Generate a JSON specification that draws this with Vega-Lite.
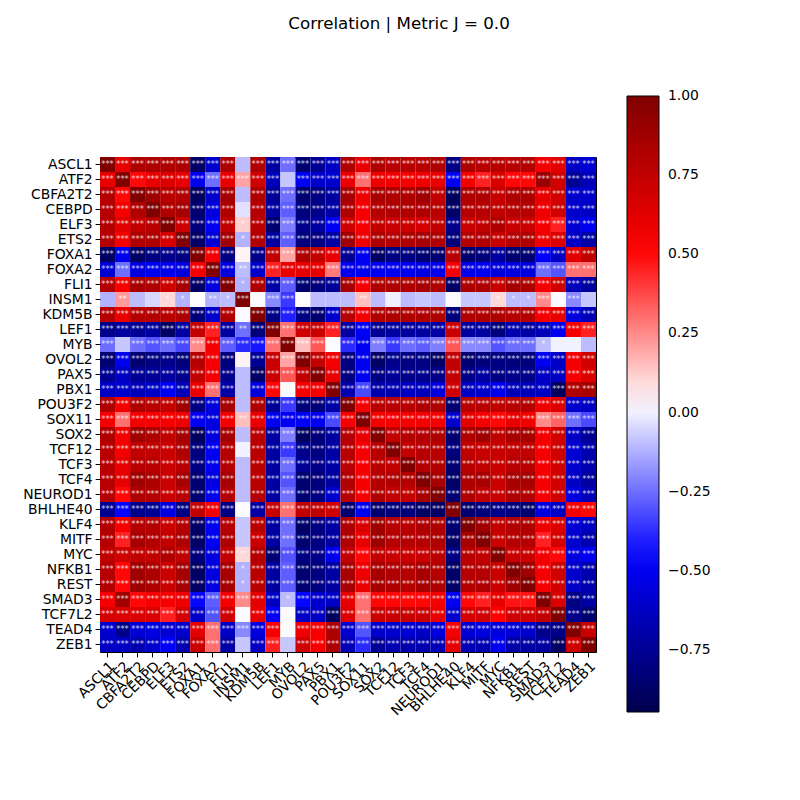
{"$schema":"https://vega.github.io/schema/vega-lite/v6.json","autosize":"none","padding":{"left":100,"top":157,"right":204,"bottom":148},"width":496,"height":495,"background":"white","title":{"text":"Correlation | Metric J = 0.0","font":"DejaVu Sans","fontSize":16.7,"fontWeight":"normal","color":"black","anchor":"middle","frame":"group","dx":51,"offset":50,"baseline":"alphabetic"},"config":{"view":{"stroke":"black","strokeWidth":1}},
"data":{"values":[
{"r":"ASCL1","c":"ASCL1","v":1.0,"s":"***"},{"r":"ASCL1","c":"ATF2","v":0.6,"s":"***"},{"r":"ASCL1","c":"CBFA2T2","v":0.82,"s":"***"},{"r":"ASCL1","c":"CEBPD","v":0.82,"s":"***"},{"r":"ASCL1","c":"ELF3","v":0.82,"s":"***"},{"r":"ASCL1","c":"ETS2","v":0.82,"s":"***"},{"r":"ASCL1","c":"FOXA1","v":-0.88,"s":"***"},{"r":"ASCL1","c":"FOXA2","v":-0.6,"s":"***"},{"r":"ASCL1","c":"FLI1","v":0.82,"s":"***"},{"r":"ASCL1","c":"INSM1","v":-0.1,"s":""},{"r":"ASCL1","c":"KDM5B","v":0.82,"s":"***"},{"r":"ASCL1","c":"LEF1","v":-0.72,"s":"***"},{"r":"ASCL1","c":"MYB","v":-0.25,"s":"***"},{"r":"ASCL1","c":"OVOL2","v":-0.85,"s":"***"},{"r":"ASCL1","c":"PAX5","v":-0.75,"s":"***"},{"r":"ASCL1","c":"PBX1","v":-0.62,"s":"***"},{"r":"ASCL1","c":"POU3F2","v":0.82,"s":"***"},{"r":"ASCL1","c":"SOX11","v":0.6,"s":"***"},{"r":"ASCL1","c":"SOX2","v":0.82,"s":"***"},{"r":"ASCL1","c":"TCF12","v":0.78,"s":"***"},{"r":"ASCL1","c":"TCF3","v":0.78,"s":"***"},{"r":"ASCL1","c":"TCF4","v":0.78,"s":"***"},{"r":"ASCL1","c":"NEUROD1","v":0.82,"s":"***"},{"r":"ASCL1","c":"BHLHE40","v":-0.8,"s":"***"},{"r":"ASCL1","c":"KLF4","v":0.82,"s":"***"},{"r":"ASCL1","c":"MITF","v":0.78,"s":"***"},{"r":"ASCL1","c":"MYC","v":0.78,"s":"***"},{"r":"ASCL1","c":"NFKB1","v":0.78,"s":"***"},{"r":"ASCL1","c":"REST","v":0.8,"s":"***"},{"r":"ASCL1","c":"SMAD3","v":0.55,"s":"***"},{"r":"ASCL1","c":"TCF7L2","v":0.62,"s":"***"},{"r":"ASCL1","c":"TEAD4","v":-0.62,"s":"***"},{"r":"ASCL1","c":"ZEB1","v":-0.58,"s":"***"},
{"r":"ATF2","c":"ASCL1","v":0.6,"s":"***"},{"r":"ATF2","c":"ATF2","v":1.0,"s":"***"},{"r":"ATF2","c":"CBFA2T2","v":0.5,"s":"***"},{"r":"ATF2","c":"CEBPD","v":0.6,"s":"***"},{"r":"ATF2","c":"ELF3","v":0.65,"s":"***"},{"r":"ATF2","c":"ETS2","v":0.6,"s":"***"},{"r":"ATF2","c":"FOXA1","v":-0.5,"s":"***"},{"r":"ATF2","c":"FOXA2","v":-0.25,"s":"***"},{"r":"ATF2","c":"FLI1","v":0.6,"s":"***"},{"r":"ATF2","c":"INSM1","v":0.2,"s":"***"},{"r":"ATF2","c":"KDM5B","v":0.7,"s":"***"},{"r":"ATF2","c":"LEF1","v":-0.65,"s":"***"},{"r":"ATF2","c":"MYB","v":-0.08,"s":""},{"r":"ATF2","c":"OVOL2","v":-0.5,"s":"***"},{"r":"ATF2","c":"PAX5","v":-0.6,"s":"***"},{"r":"ATF2","c":"PBX1","v":-0.6,"s":"***"},{"r":"ATF2","c":"POU3F2","v":0.6,"s":"***"},{"r":"ATF2","c":"SOX11","v":0.3,"s":"***"},{"r":"ATF2","c":"SOX2","v":0.58,"s":"***"},{"r":"ATF2","c":"TCF12","v":0.58,"s":"***"},{"r":"ATF2","c":"TCF3","v":0.55,"s":"***"},{"r":"ATF2","c":"TCF4","v":0.58,"s":"***"},{"r":"ATF2","c":"NEUROD1","v":0.6,"s":"***"},{"r":"ATF2","c":"BHLHE40","v":-0.5,"s":"***"},{"r":"ATF2","c":"KLF4","v":0.55,"s":"***"},{"r":"ATF2","c":"MITF","v":0.45,"s":"***"},{"r":"ATF2","c":"MYC","v":0.65,"s":"***"},{"r":"ATF2","c":"NFKB1","v":0.5,"s":"***"},{"r":"ATF2","c":"REST","v":0.5,"s":"***"},{"r":"ATF2","c":"SMAD3","v":0.9,"s":"***"},{"r":"ATF2","c":"TCF7L2","v":0.7,"s":"***"},{"r":"ATF2","c":"TEAD4","v":-0.75,"s":"***"},{"r":"ATF2","c":"ZEB1","v":-0.65,"s":"***"},
{"r":"CBFA2T2","c":"ASCL1","v":0.8,"s":"***"},{"r":"CBFA2T2","c":"ATF2","v":0.5,"s":"***"},{"r":"CBFA2T2","c":"CBFA2T2","v":1.0,"s":"***"},{"r":"CBFA2T2","c":"CEBPD","v":0.88,"s":"***"},{"r":"CBFA2T2","c":"ELF3","v":0.78,"s":"***"},{"r":"CBFA2T2","c":"ETS2","v":0.8,"s":"***"},{"r":"CBFA2T2","c":"FOXA1","v":-0.9,"s":"***"},{"r":"CBFA2T2","c":"FOXA2","v":-0.6,"s":"***"},{"r":"CBFA2T2","c":"FLI1","v":0.85,"s":"***"},{"r":"CBFA2T2","c":"INSM1","v":-0.1,"s":""},{"r":"CBFA2T2","c":"KDM5B","v":0.82,"s":"***"},{"r":"CBFA2T2","c":"LEF1","v":-0.75,"s":"***"},{"r":"CBFA2T2","c":"MYB","v":-0.25,"s":"***"},{"r":"CBFA2T2","c":"OVOL2","v":-0.85,"s":"***"},{"r":"CBFA2T2","c":"PAX5","v":-0.8,"s":"***"},{"r":"CBFA2T2","c":"PBX1","v":-0.72,"s":"***"},{"r":"CBFA2T2","c":"POU3F2","v":0.85,"s":"***"},{"r":"CBFA2T2","c":"SOX11","v":0.58,"s":"***"},{"r":"CBFA2T2","c":"SOX2","v":0.85,"s":"***"},{"r":"CBFA2T2","c":"TCF12","v":0.82,"s":"***"},{"r":"CBFA2T2","c":"TCF3","v":0.82,"s":"***"},{"r":"CBFA2T2","c":"TCF4","v":0.88,"s":"***"},{"r":"CBFA2T2","c":"NEUROD1","v":0.75,"s":"***"},{"r":"CBFA2T2","c":"BHLHE40","v":-0.9,"s":"***"},{"r":"CBFA2T2","c":"KLF4","v":0.82,"s":"***"},{"r":"CBFA2T2","c":"MITF","v":0.82,"s":"***"},{"r":"CBFA2T2","c":"MYC","v":0.72,"s":"***"},{"r":"CBFA2T2","c":"NFKB1","v":0.82,"s":"***"},{"r":"CBFA2T2","c":"REST","v":0.82,"s":"***"},{"r":"CBFA2T2","c":"SMAD3","v":0.6,"s":"***"},{"r":"CBFA2T2","c":"TCF7L2","v":0.7,"s":"***"},{"r":"CBFA2T2","c":"TEAD4","v":-0.6,"s":"***"},{"r":"CBFA2T2","c":"ZEB1","v":-0.6,"s":"***"},
{"r":"CEBPD","c":"ASCL1","v":0.8,"s":"***"},{"r":"CEBPD","c":"ATF2","v":0.55,"s":"***"},{"r":"CEBPD","c":"CBFA2T2","v":0.82,"s":"***"},{"r":"CEBPD","c":"CEBPD","v":1.0,"s":"***"},{"r":"CEBPD","c":"ELF3","v":0.82,"s":"***"},{"r":"CEBPD","c":"ETS2","v":0.85,"s":"***"},{"r":"CEBPD","c":"FOXA1","v":-0.85,"s":"***"},{"r":"CEBPD","c":"FOXA2","v":-0.55,"s":"***"},{"r":"CEBPD","c":"FLI1","v":0.82,"s":"***"},{"r":"CEBPD","c":"INSM1","v":-0.03,"s":""},{"r":"CEBPD","c":"KDM5B","v":0.8,"s":"***"},{"r":"CEBPD","c":"LEF1","v":-0.72,"s":"***"},{"r":"CEBPD","c":"MYB","v":-0.28,"s":"***"},{"r":"CEBPD","c":"OVOL2","v":-0.82,"s":"***"},{"r":"CEBPD","c":"PAX5","v":-0.78,"s":"***"},{"r":"CEBPD","c":"PBX1","v":-0.7,"s":"***"},{"r":"CEBPD","c":"POU3F2","v":0.82,"s":"***"},{"r":"CEBPD","c":"SOX11","v":0.55,"s":"***"},{"r":"CEBPD","c":"SOX2","v":0.8,"s":"***"},{"r":"CEBPD","c":"TCF12","v":0.82,"s":"***"},{"r":"CEBPD","c":"TCF3","v":0.82,"s":"***"},{"r":"CEBPD","c":"TCF4","v":0.82,"s":"***"},{"r":"CEBPD","c":"NEUROD1","v":0.78,"s":"***"},{"r":"CEBPD","c":"BHLHE40","v":-0.88,"s":"***"},{"r":"CEBPD","c":"KLF4","v":0.8,"s":"***"},{"r":"CEBPD","c":"MITF","v":0.8,"s":"***"},{"r":"CEBPD","c":"MYC","v":0.75,"s":"***"},{"r":"CEBPD","c":"NFKB1","v":0.8,"s":"***"},{"r":"CEBPD","c":"REST","v":0.8,"s":"***"},{"r":"CEBPD","c":"SMAD3","v":0.58,"s":"***"},{"r":"CEBPD","c":"TCF7L2","v":0.7,"s":"***"},{"r":"CEBPD","c":"TEAD4","v":-0.6,"s":"***"},{"r":"CEBPD","c":"ZEB1","v":-0.62,"s":"***"},
{"r":"ELF3","c":"ASCL1","v":0.8,"s":"***"},{"r":"ELF3","c":"ATF2","v":0.62,"s":"***"},{"r":"ELF3","c":"CBFA2T2","v":0.75,"s":"***"},{"r":"ELF3","c":"CEBPD","v":0.78,"s":"***"},{"r":"ELF3","c":"ELF3","v":1.0,"s":"***"},{"r":"ELF3","c":"ETS2","v":0.7,"s":"***"},{"r":"ELF3","c":"FOXA1","v":-0.82,"s":"***"},{"r":"ELF3","c":"FOXA2","v":-0.5,"s":"***"},{"r":"ELF3","c":"FLI1","v":0.75,"s":"***"},{"r":"ELF3","c":"INSM1","v":0.12,"s":"*"},{"r":"ELF3","c":"KDM5B","v":0.78,"s":"***"},{"r":"ELF3","c":"LEF1","v":-0.85,"s":"***"},{"r":"ELF3","c":"MYB","v":-0.22,"s":"***"},{"r":"ELF3","c":"OVOL2","v":-0.78,"s":"***"},{"r":"ELF3","c":"PAX5","v":-0.72,"s":"***"},{"r":"ELF3","c":"PBX1","v":-0.48,"s":"***"},{"r":"ELF3","c":"POU3F2","v":0.7,"s":"***"},{"r":"ELF3","c":"SOX11","v":0.55,"s":"***"},{"r":"ELF3","c":"SOX2","v":0.75,"s":"***"},{"r":"ELF3","c":"TCF12","v":0.72,"s":"***"},{"r":"ELF3","c":"TCF3","v":0.72,"s":"***"},{"r":"ELF3","c":"TCF4","v":0.68,"s":"***"},{"r":"ELF3","c":"NEUROD1","v":0.75,"s":"***"},{"r":"ELF3","c":"BHLHE40","v":-0.78,"s":"***"},{"r":"ELF3","c":"KLF4","v":0.72,"s":"***"},{"r":"ELF3","c":"MITF","v":0.75,"s":"***"},{"r":"ELF3","c":"MYC","v":0.82,"s":"***"},{"r":"ELF3","c":"NFKB1","v":0.72,"s":"***"},{"r":"ELF3","c":"REST","v":0.72,"s":"***"},{"r":"ELF3","c":"SMAD3","v":0.55,"s":"***"},{"r":"ELF3","c":"TCF7L2","v":0.45,"s":"***"},{"r":"ELF3","c":"TEAD4","v":-0.58,"s":"***"},{"r":"ELF3","c":"ZEB1","v":-0.5,"s":"***"},
{"r":"ETS2","c":"ASCL1","v":0.8,"s":"***"},{"r":"ETS2","c":"ATF2","v":0.55,"s":"***"},{"r":"ETS2","c":"CBFA2T2","v":0.82,"s":"***"},{"r":"ETS2","c":"CEBPD","v":0.82,"s":"***"},{"r":"ETS2","c":"ELF3","v":0.68,"s":"***"},{"r":"ETS2","c":"ETS2","v":1.0,"s":"***"},{"r":"ETS2","c":"FOXA1","v":-0.88,"s":"***"},{"r":"ETS2","c":"FOXA2","v":-0.58,"s":"***"},{"r":"ETS2","c":"FLI1","v":0.88,"s":"***"},{"r":"ETS2","c":"INSM1","v":-0.12,"s":"*"},{"r":"ETS2","c":"KDM5B","v":0.82,"s":"***"},{"r":"ETS2","c":"LEF1","v":-0.72,"s":"***"},{"r":"ETS2","c":"MYB","v":-0.28,"s":"***"},{"r":"ETS2","c":"OVOL2","v":-0.82,"s":"***"},{"r":"ETS2","c":"PAX5","v":-0.8,"s":"***"},{"r":"ETS2","c":"PBX1","v":-0.72,"s":"***"},{"r":"ETS2","c":"POU3F2","v":0.88,"s":"***"},{"r":"ETS2","c":"SOX11","v":0.58,"s":"***"},{"r":"ETS2","c":"SOX2","v":0.82,"s":"***"},{"r":"ETS2","c":"TCF12","v":0.8,"s":"***"},{"r":"ETS2","c":"TCF3","v":0.82,"s":"***"},{"r":"ETS2","c":"TCF4","v":0.85,"s":"***"},{"r":"ETS2","c":"NEUROD1","v":0.82,"s":"***"},{"r":"ETS2","c":"BHLHE40","v":-0.82,"s":"***"},{"r":"ETS2","c":"KLF4","v":0.8,"s":"***"},{"r":"ETS2","c":"MITF","v":0.82,"s":"***"},{"r":"ETS2","c":"MYC","v":0.72,"s":"***"},{"r":"ETS2","c":"NFKB1","v":0.8,"s":"***"},{"r":"ETS2","c":"REST","v":0.82,"s":"***"},{"r":"ETS2","c":"SMAD3","v":0.58,"s":"***"},{"r":"ETS2","c":"TCF7L2","v":0.65,"s":"***"},{"r":"ETS2","c":"TEAD4","v":-0.62,"s":"***"},{"r":"ETS2","c":"ZEB1","v":-0.7,"s":"***"},
{"r":"FOXA1","c":"ASCL1","v":-0.88,"s":"***"},{"r":"FOXA1","c":"ATF2","v":-0.5,"s":"***"},{"r":"FOXA1","c":"CBFA2T2","v":-0.88,"s":"***"},{"r":"FOXA1","c":"CEBPD","v":-0.8,"s":"***"},{"r":"FOXA1","c":"ELF3","v":-0.78,"s":"***"},{"r":"FOXA1","c":"ETS2","v":-0.8,"s":"***"},{"r":"FOXA1","c":"FOXA1","v":1.0,"s":"***"},{"r":"FOXA1","c":"FOXA2","v":0.55,"s":"***"},{"r":"FOXA1","c":"FLI1","v":-0.8,"s":"***"},{"r":"FOXA1","c":"INSM1","v":0.05,"s":""},{"r":"FOXA1","c":"KDM5B","v":-0.78,"s":"***"},{"r":"FOXA1","c":"LEF1","v":0.75,"s":"***"},{"r":"FOXA1","c":"MYB","v":0.2,"s":"***"},{"r":"FOXA1","c":"OVOL2","v":0.82,"s":"***"},{"r":"FOXA1","c":"PAX5","v":0.75,"s":"***"},{"r":"FOXA1","c":"PBX1","v":0.6,"s":"***"},{"r":"FOXA1","c":"POU3F2","v":-0.75,"s":"***"},{"r":"FOXA1","c":"SOX11","v":-0.5,"s":"***"},{"r":"FOXA1","c":"SOX2","v":-0.88,"s":"***"},{"r":"FOXA1","c":"TCF12","v":-0.8,"s":"***"},{"r":"FOXA1","c":"TCF3","v":-0.8,"s":"***"},{"r":"FOXA1","c":"TCF4","v":-0.85,"s":"***"},{"r":"FOXA1","c":"NEUROD1","v":-0.85,"s":"***"},{"r":"FOXA1","c":"BHLHE40","v":0.78,"s":"***"},{"r":"FOXA1","c":"KLF4","v":-0.85,"s":"***"},{"r":"FOXA1","c":"MITF","v":-0.82,"s":"***"},{"r":"FOXA1","c":"MYC","v":-0.72,"s":"***"},{"r":"FOXA1","c":"NFKB1","v":-0.85,"s":"***"},{"r":"FOXA1","c":"REST","v":-0.85,"s":"***"},{"r":"FOXA1","c":"SMAD3","v":-0.48,"s":"***"},{"r":"FOXA1","c":"TCF7L2","v":-0.62,"s":"***"},{"r":"FOXA1","c":"TEAD4","v":0.62,"s":"***"},{"r":"FOXA1","c":"ZEB1","v":0.75,"s":"***"},
{"r":"FOXA2","c":"ASCL1","v":-0.58,"s":"***"},{"r":"FOXA2","c":"ATF2","v":-0.25,"s":"***"},{"r":"FOXA2","c":"CBFA2T2","v":-0.55,"s":"***"},{"r":"FOXA2","c":"CEBPD","v":-0.5,"s":"***"},{"r":"FOXA2","c":"ELF3","v":-0.52,"s":"***"},{"r":"FOXA2","c":"ETS2","v":-0.55,"s":"***"},{"r":"FOXA2","c":"FOXA1","v":0.55,"s":"***"},{"r":"FOXA2","c":"FOXA2","v":1.0,"s":"***"},{"r":"FOXA2","c":"FLI1","v":-0.55,"s":"***"},{"r":"FOXA2","c":"INSM1","v":-0.1,"s":"**"},{"r":"FOXA2","c":"KDM5B","v":-0.6,"s":"***"},{"r":"FOXA2","c":"LEF1","v":0.45,"s":"***"},{"r":"FOXA2","c":"MYB","v":0.6,"s":"***"},{"r":"FOXA2","c":"OVOL2","v":0.6,"s":"***"},{"r":"FOXA2","c":"PAX5","v":0.6,"s":"***"},{"r":"FOXA2","c":"PBX1","v":0.28,"s":"***"},{"r":"FOXA2","c":"POU3F2","v":-0.5,"s":"***"},{"r":"FOXA2","c":"SOX11","v":-0.5,"s":"***"},{"r":"FOXA2","c":"SOX2","v":-0.5,"s":"***"},{"r":"FOXA2","c":"TCF12","v":-0.5,"s":"***"},{"r":"FOXA2","c":"TCF3","v":-0.5,"s":"***"},{"r":"FOXA2","c":"TCF4","v":-0.55,"s":"***"},{"r":"FOXA2","c":"NEUROD1","v":-0.5,"s":"***"},{"r":"FOXA2","c":"BHLHE40","v":0.55,"s":"***"},{"r":"FOXA2","c":"KLF4","v":-0.52,"s":"***"},{"r":"FOXA2","c":"MITF","v":-0.5,"s":"***"},{"r":"FOXA2","c":"MYC","v":-0.55,"s":"***"},{"r":"FOXA2","c":"NFKB1","v":-0.55,"s":"***"},{"r":"FOXA2","c":"REST","v":-0.55,"s":"***"},{"r":"FOXA2","c":"SMAD3","v":-0.25,"s":"***"},{"r":"FOXA2","c":"TCF7L2","v":-0.3,"s":"***"},{"r":"FOXA2","c":"TEAD4","v":0.3,"s":"***"},{"r":"FOXA2","c":"ZEB1","v":0.3,"s":"***"},
{"r":"FLI1","c":"ASCL1","v":0.8,"s":"***"},{"r":"FLI1","c":"ATF2","v":0.55,"s":"***"},{"r":"FLI1","c":"CBFA2T2","v":0.85,"s":"***"},{"r":"FLI1","c":"CEBPD","v":0.82,"s":"***"},{"r":"FLI1","c":"ELF3","v":0.7,"s":"***"},{"r":"FLI1","c":"ETS2","v":0.85,"s":"***"},{"r":"FLI1","c":"FOXA1","v":-0.88,"s":"***"},{"r":"FLI1","c":"FOXA2","v":-0.55,"s":"***"},{"r":"FLI1","c":"FLI1","v":1.0,"s":"***"},{"r":"FLI1","c":"INSM1","v":-0.12,"s":"*"},{"r":"FLI1","c":"KDM5B","v":0.82,"s":"***"},{"r":"FLI1","c":"LEF1","v":-0.7,"s":"***"},{"r":"FLI1","c":"MYB","v":-0.28,"s":"***"},{"r":"FLI1","c":"OVOL2","v":-0.85,"s":"***"},{"r":"FLI1","c":"PAX5","v":-0.82,"s":"***"},{"r":"FLI1","c":"PBX1","v":-0.75,"s":"***"},{"r":"FLI1","c":"POU3F2","v":0.85,"s":"***"},{"r":"FLI1","c":"SOX11","v":0.55,"s":"***"},{"r":"FLI1","c":"SOX2","v":0.82,"s":"***"},{"r":"FLI1","c":"TCF12","v":0.82,"s":"***"},{"r":"FLI1","c":"TCF3","v":0.82,"s":"***"},{"r":"FLI1","c":"TCF4","v":0.85,"s":"***"},{"r":"FLI1","c":"NEUROD1","v":0.82,"s":"***"},{"r":"FLI1","c":"BHLHE40","v":-0.88,"s":"***"},{"r":"FLI1","c":"KLF4","v":0.82,"s":"***"},{"r":"FLI1","c":"MITF","v":0.82,"s":"***"},{"r":"FLI1","c":"MYC","v":0.72,"s":"***"},{"r":"FLI1","c":"NFKB1","v":0.85,"s":"***"},{"r":"FLI1","c":"REST","v":0.82,"s":"***"},{"r":"FLI1","c":"SMAD3","v":0.55,"s":"***"},{"r":"FLI1","c":"TCF7L2","v":0.7,"s":"***"},{"r":"FLI1","c":"TEAD4","v":-0.65,"s":"***"},{"r":"FLI1","c":"ZEB1","v":-0.72,"s":"***"},
{"r":"INSM1","c":"ASCL1","v":-0.12,"s":""},{"r":"INSM1","c":"ATF2","v":0.22,"s":"**"},{"r":"INSM1","c":"CBFA2T2","v":-0.1,"s":""},{"r":"INSM1","c":"CEBPD","v":-0.05,"s":""},{"r":"INSM1","c":"ELF3","v":0.1,"s":"*"},{"r":"INSM1","c":"ETS2","v":-0.12,"s":"*"},{"r":"INSM1","c":"FOXA1","v":0.03,"s":""},{"r":"INSM1","c":"FOXA2","v":-0.12,"s":"**"},{"r":"INSM1","c":"FLI1","v":-0.1,"s":"*"},{"r":"INSM1","c":"INSM1","v":1.0,"s":"***"},{"r":"INSM1","c":"KDM5B","v":0.02,"s":""},{"r":"INSM1","c":"LEF1","v":-0.2,"s":"***"},{"r":"INSM1","c":"MYB","v":-0.35,"s":"***"},{"r":"INSM1","c":"OVOL2","v":0.03,"s":""},{"r":"INSM1","c":"PAX5","v":-0.1,"s":""},{"r":"INSM1","c":"PBX1","v":-0.1,"s":""},{"r":"INSM1","c":"POU3F2","v":-0.1,"s":""},{"r":"INSM1","c":"SOX11","v":0.15,"s":"**"},{"r":"INSM1","c":"SOX2","v":-0.1,"s":""},{"r":"INSM1","c":"TCF12","v":0.0,"s":""},{"r":"INSM1","c":"TCF3","v":-0.1,"s":""},{"r":"INSM1","c":"TCF4","v":-0.08,"s":""},{"r":"INSM1","c":"NEUROD1","v":-0.1,"s":""},{"r":"INSM1","c":"BHLHE40","v":0.02,"s":""},{"r":"INSM1","c":"KLF4","v":-0.08,"s":""},{"r":"INSM1","c":"MITF","v":-0.08,"s":""},{"r":"INSM1","c":"MYC","v":0.1,"s":"*"},{"r":"INSM1","c":"NFKB1","v":-0.1,"s":"*"},{"r":"INSM1","c":"REST","v":-0.1,"s":"*"},{"r":"INSM1","c":"SMAD3","v":0.25,"s":"***"},{"r":"INSM1","c":"TCF7L2","v":0.02,"s":""},{"r":"INSM1","c":"TEAD4","v":-0.2,"s":"***"},{"r":"INSM1","c":"ZEB1","v":-0.08,"s":""},
{"r":"KDM5B","c":"ASCL1","v":0.8,"s":"***"},{"r":"KDM5B","c":"ATF2","v":0.6,"s":"***"},{"r":"KDM5B","c":"CBFA2T2","v":0.8,"s":"***"},{"r":"KDM5B","c":"CEBPD","v":0.8,"s":"***"},{"r":"KDM5B","c":"ELF3","v":0.78,"s":"***"},{"r":"KDM5B","c":"ETS2","v":0.82,"s":"***"},{"r":"KDM5B","c":"FOXA1","v":-0.82,"s":"***"},{"r":"KDM5B","c":"FOXA2","v":-0.6,"s":"***"},{"r":"KDM5B","c":"FLI1","v":0.82,"s":"***"},{"r":"KDM5B","c":"INSM1","v":0.02,"s":""},{"r":"KDM5B","c":"KDM5B","v":1.0,"s":"***"},{"r":"KDM5B","c":"LEF1","v":-0.8,"s":"***"},{"r":"KDM5B","c":"MYB","v":-0.4,"s":"***"},{"r":"KDM5B","c":"OVOL2","v":-0.8,"s":"***"},{"r":"KDM5B","c":"PAX5","v":-0.85,"s":"***"},{"r":"KDM5B","c":"PBX1","v":-0.6,"s":"***"},{"r":"KDM5B","c":"POU3F2","v":0.8,"s":"***"},{"r":"KDM5B","c":"SOX11","v":0.55,"s":"***"},{"r":"KDM5B","c":"SOX2","v":0.82,"s":"***"},{"r":"KDM5B","c":"TCF12","v":0.82,"s":"***"},{"r":"KDM5B","c":"TCF3","v":0.82,"s":"***"},{"r":"KDM5B","c":"TCF4","v":0.82,"s":"***"},{"r":"KDM5B","c":"NEUROD1","v":0.82,"s":"***"},{"r":"KDM5B","c":"BHLHE40","v":-0.82,"s":"***"},{"r":"KDM5B","c":"KLF4","v":0.82,"s":"***"},{"r":"KDM5B","c":"MITF","v":0.82,"s":"***"},{"r":"KDM5B","c":"MYC","v":0.82,"s":"***"},{"r":"KDM5B","c":"NFKB1","v":0.8,"s":"***"},{"r":"KDM5B","c":"REST","v":0.8,"s":"***"},{"r":"KDM5B","c":"SMAD3","v":0.55,"s":"***"},{"r":"KDM5B","c":"TCF7L2","v":0.6,"s":"***"},{"r":"KDM5B","c":"TEAD4","v":-0.55,"s":"***"},{"r":"KDM5B","c":"ZEB1","v":-0.65,"s":"***"},
{"r":"LEF1","c":"ASCL1","v":-0.78,"s":"***"},{"r":"LEF1","c":"ATF2","v":-0.72,"s":"***"},{"r":"LEF1","c":"CBFA2T2","v":-0.75,"s":"***"},{"r":"LEF1","c":"CEBPD","v":-0.72,"s":"***"},{"r":"LEF1","c":"ELF3","v":-0.88,"s":"***"},{"r":"LEF1","c":"ETS2","v":-0.72,"s":"***"},{"r":"LEF1","c":"FOXA1","v":0.75,"s":"***"},{"r":"LEF1","c":"FOXA2","v":0.45,"s":"***"},{"r":"LEF1","c":"FLI1","v":-0.72,"s":"***"},{"r":"LEF1","c":"INSM1","v":-0.25,"s":"**"},{"r":"LEF1","c":"KDM5B","v":-0.82,"s":"***"},{"r":"LEF1","c":"LEF1","v":1.0,"s":"***"},{"r":"LEF1","c":"MYB","v":0.3,"s":"***"},{"r":"LEF1","c":"OVOL2","v":0.7,"s":"***"},{"r":"LEF1","c":"PAX5","v":0.72,"s":"***"},{"r":"LEF1","c":"PBX1","v":0.45,"s":"***"},{"r":"LEF1","c":"POU3F2","v":-0.72,"s":"***"},{"r":"LEF1","c":"SOX11","v":-0.48,"s":"***"},{"r":"LEF1","c":"SOX2","v":-0.75,"s":"***"},{"r":"LEF1","c":"TCF12","v":-0.72,"s":"***"},{"r":"LEF1","c":"TCF3","v":-0.72,"s":"***"},{"r":"LEF1","c":"TCF4","v":-0.72,"s":"***"},{"r":"LEF1","c":"NEUROD1","v":-0.7,"s":"***"},{"r":"LEF1","c":"BHLHE40","v":0.72,"s":"***"},{"r":"LEF1","c":"KLF4","v":-0.72,"s":"***"},{"r":"LEF1","c":"MITF","v":-0.72,"s":"***"},{"r":"LEF1","c":"MYC","v":-0.82,"s":"***"},{"r":"LEF1","c":"NFKB1","v":-0.68,"s":"***"},{"r":"LEF1","c":"REST","v":-0.7,"s":"***"},{"r":"LEF1","c":"SMAD3","v":-0.65,"s":"***"},{"r":"LEF1","c":"TCF7L2","v":-0.5,"s":"***"},{"r":"LEF1","c":"TEAD4","v":0.55,"s":"***"},{"r":"LEF1","c":"ZEB1","v":0.45,"s":"***"},
{"r":"MYB","c":"ASCL1","v":-0.25,"s":"***"},{"r":"MYB","c":"ATF2","v":-0.08,"s":""},{"r":"MYB","c":"CBFA2T2","v":-0.25,"s":"***"},{"r":"MYB","c":"CEBPD","v":-0.3,"s":"***"},{"r":"MYB","c":"ELF3","v":-0.25,"s":"***"},{"r":"MYB","c":"ETS2","v":-0.32,"s":"***"},{"r":"MYB","c":"FOXA1","v":0.25,"s":"***"},{"r":"MYB","c":"FOXA2","v":0.55,"s":"***"},{"r":"MYB","c":"FLI1","v":-0.28,"s":"***"},{"r":"MYB","c":"INSM1","v":-0.38,"s":"***"},{"r":"MYB","c":"KDM5B","v":-0.42,"s":"***"},{"r":"MYB","c":"LEF1","v":0.3,"s":"***"},{"r":"MYB","c":"MYB","v":1.0,"s":"***"},{"r":"MYB","c":"OVOL2","v":0.15,"s":"***"},{"r":"MYB","c":"PAX5","v":0.35,"s":"***"},{"r":"MYB","c":"PBX1","v":0.02,"s":""},{"r":"MYB","c":"POU3F2","v":-0.38,"s":"***"},{"r":"MYB","c":"SOX11","v":-0.5,"s":"***"},{"r":"MYB","c":"SOX2","v":-0.22,"s":"***"},{"r":"MYB","c":"TCF12","v":-0.35,"s":"***"},{"r":"MYB","c":"TCF3","v":-0.25,"s":"***"},{"r":"MYB","c":"TCF4","v":-0.28,"s":"***"},{"r":"MYB","c":"NEUROD1","v":-0.22,"s":"***"},{"r":"MYB","c":"BHLHE40","v":0.35,"s":"***"},{"r":"MYB","c":"KLF4","v":-0.2,"s":"***"},{"r":"MYB","c":"MITF","v":-0.2,"s":"***"},{"r":"MYB","c":"MYC","v":-0.3,"s":"***"},{"r":"MYB","c":"NFKB1","v":-0.25,"s":"***"},{"r":"MYB","c":"REST","v":-0.25,"s":"***"},{"r":"MYB","c":"SMAD3","v":-0.1,"s":"*"},{"r":"MYB","c":"TCF7L2","v":0.0,"s":""},{"r":"MYB","c":"TEAD4","v":0.0,"s":""},{"r":"MYB","c":"ZEB1","v":-0.1,"s":""},
{"r":"OVOL2","c":"ASCL1","v":-0.85,"s":"***"},{"r":"OVOL2","c":"ATF2","v":-0.5,"s":"***"},{"r":"OVOL2","c":"CBFA2T2","v":-0.85,"s":"***"},{"r":"OVOL2","c":"CEBPD","v":-0.8,"s":"***"},{"r":"OVOL2","c":"ELF3","v":-0.78,"s":"***"},{"r":"OVOL2","c":"ETS2","v":-0.82,"s":"***"},{"r":"OVOL2","c":"FOXA1","v":0.8,"s":"***"},{"r":"OVOL2","c":"FOXA2","v":0.55,"s":"***"},{"r":"OVOL2","c":"FLI1","v":-0.82,"s":"***"},{"r":"OVOL2","c":"INSM1","v":0.05,"s":""},{"r":"OVOL2","c":"KDM5B","v":-0.75,"s":"***"},{"r":"OVOL2","c":"LEF1","v":0.72,"s":"***"},{"r":"OVOL2","c":"MYB","v":0.2,"s":"***"},{"r":"OVOL2","c":"OVOL2","v":1.0,"s":"***"},{"r":"OVOL2","c":"PAX5","v":0.75,"s":"***"},{"r":"OVOL2","c":"PBX1","v":0.55,"s":"***"},{"r":"OVOL2","c":"POU3F2","v":-0.8,"s":"***"},{"r":"OVOL2","c":"SOX11","v":-0.5,"s":"***"},{"r":"OVOL2","c":"SOX2","v":-0.88,"s":"***"},{"r":"OVOL2","c":"TCF12","v":-0.78,"s":"***"},{"r":"OVOL2","c":"TCF3","v":-0.8,"s":"***"},{"r":"OVOL2","c":"TCF4","v":-0.8,"s":"***"},{"r":"OVOL2","c":"NEUROD1","v":-0.88,"s":"***"},{"r":"OVOL2","c":"BHLHE40","v":0.75,"s":"***"},{"r":"OVOL2","c":"KLF4","v":-0.85,"s":"***"},{"r":"OVOL2","c":"MITF","v":-0.82,"s":"***"},{"r":"OVOL2","c":"MYC","v":-0.8,"s":"***"},{"r":"OVOL2","c":"NFKB1","v":-0.82,"s":"***"},{"r":"OVOL2","c":"REST","v":-0.82,"s":"***"},{"r":"OVOL2","c":"SMAD3","v":-0.5,"s":"***"},{"r":"OVOL2","c":"TCF7L2","v":-0.62,"s":"***"},{"r":"OVOL2","c":"TEAD4","v":0.55,"s":"***"},{"r":"OVOL2","c":"ZEB1","v":0.7,"s":"***"},
{"r":"PAX5","c":"ASCL1","v":-0.75,"s":"***"},{"r":"PAX5","c":"ATF2","v":-0.62,"s":"***"},{"r":"PAX5","c":"CBFA2T2","v":-0.75,"s":"***"},{"r":"PAX5","c":"CEBPD","v":-0.75,"s":"***"},{"r":"PAX5","c":"ELF3","v":-0.72,"s":"***"},{"r":"PAX5","c":"ETS2","v":-0.78,"s":"***"},{"r":"PAX5","c":"FOXA1","v":0.75,"s":"***"},{"r":"PAX5","c":"FOXA2","v":0.55,"s":"***"},{"r":"PAX5","c":"FLI1","v":-0.78,"s":"***"},{"r":"PAX5","c":"INSM1","v":-0.1,"s":""},{"r":"PAX5","c":"KDM5B","v":-0.88,"s":"***"},{"r":"PAX5","c":"LEF1","v":0.72,"s":"***"},{"r":"PAX5","c":"MYB","v":0.35,"s":"***"},{"r":"PAX5","c":"OVOL2","v":0.75,"s":"***"},{"r":"PAX5","c":"PAX5","v":1.0,"s":"***"},{"r":"PAX5","c":"PBX1","v":0.6,"s":"***"},{"r":"PAX5","c":"POU3F2","v":-0.8,"s":"***"},{"r":"PAX5","c":"SOX11","v":-0.5,"s":"***"},{"r":"PAX5","c":"SOX2","v":-0.8,"s":"***"},{"r":"PAX5","c":"TCF12","v":-0.75,"s":"***"},{"r":"PAX5","c":"TCF3","v":-0.78,"s":"***"},{"r":"PAX5","c":"TCF4","v":-0.78,"s":"***"},{"r":"PAX5","c":"NEUROD1","v":-0.78,"s":"***"},{"r":"PAX5","c":"BHLHE40","v":0.75,"s":"***"},{"r":"PAX5","c":"KLF4","v":-0.78,"s":"***"},{"r":"PAX5","c":"MITF","v":-0.72,"s":"***"},{"r":"PAX5","c":"MYC","v":-0.8,"s":"***"},{"r":"PAX5","c":"NFKB1","v":-0.78,"s":"***"},{"r":"PAX5","c":"REST","v":-0.78,"s":"***"},{"r":"PAX5","c":"SMAD3","v":-0.62,"s":"***"},{"r":"PAX5","c":"TCF7L2","v":-0.62,"s":"***"},{"r":"PAX5","c":"TEAD4","v":0.55,"s":"***"},{"r":"PAX5","c":"ZEB1","v":0.65,"s":"***"},
{"r":"PBX1","c":"ASCL1","v":-0.62,"s":"***"},{"r":"PBX1","c":"ATF2","v":-0.6,"s":"***"},{"r":"PBX1","c":"CBFA2T2","v":-0.65,"s":"***"},{"r":"PBX1","c":"CEBPD","v":-0.62,"s":"***"},{"r":"PBX1","c":"ELF3","v":-0.5,"s":"***"},{"r":"PBX1","c":"ETS2","v":-0.65,"s":"***"},{"r":"PBX1","c":"FOXA1","v":0.6,"s":"***"},{"r":"PBX1","c":"FOXA2","v":0.3,"s":"***"},{"r":"PBX1","c":"FLI1","v":-0.7,"s":"***"},{"r":"PBX1","c":"INSM1","v":-0.1,"s":""},{"r":"PBX1","c":"KDM5B","v":-0.55,"s":"***"},{"r":"PBX1","c":"LEF1","v":0.5,"s":"***"},{"r":"PBX1","c":"MYB","v":0.02,"s":""},{"r":"PBX1","c":"OVOL2","v":0.55,"s":"***"},{"r":"PBX1","c":"PAX5","v":0.55,"s":"***"},{"r":"PBX1","c":"PBX1","v":1.0,"s":"***"},{"r":"PBX1","c":"POU3F2","v":-0.68,"s":"***"},{"r":"PBX1","c":"SOX11","v":-0.32,"s":"***"},{"r":"PBX1","c":"SOX2","v":-0.68,"s":"***"},{"r":"PBX1","c":"TCF12","v":-0.68,"s":"***"},{"r":"PBX1","c":"TCF3","v":-0.62,"s":"***"},{"r":"PBX1","c":"TCF4","v":-0.65,"s":"***"},{"r":"PBX1","c":"NEUROD1","v":-0.55,"s":"***"},{"r":"PBX1","c":"BHLHE40","v":0.7,"s":"***"},{"r":"PBX1","c":"KLF4","v":-0.62,"s":"***"},{"r":"PBX1","c":"MITF","v":-0.6,"s":"***"},{"r":"PBX1","c":"MYC","v":-0.5,"s":"***"},{"r":"PBX1","c":"NFKB1","v":-0.65,"s":"***"},{"r":"PBX1","c":"REST","v":-0.65,"s":"***"},{"r":"PBX1","c":"SMAD3","v":-0.62,"s":"***"},{"r":"PBX1","c":"TCF7L2","v":-0.9,"s":"***"},{"r":"PBX1","c":"TEAD4","v":0.82,"s":"***"},{"r":"PBX1","c":"ZEB1","v":0.85,"s":"***"},
{"r":"POU3F2","c":"ASCL1","v":0.82,"s":"***"},{"r":"POU3F2","c":"ATF2","v":0.55,"s":"***"},{"r":"POU3F2","c":"CBFA2T2","v":0.82,"s":"***"},{"r":"POU3F2","c":"CEBPD","v":0.78,"s":"***"},{"r":"POU3F2","c":"ELF3","v":0.75,"s":"***"},{"r":"POU3F2","c":"ETS2","v":0.88,"s":"***"},{"r":"POU3F2","c":"FOXA1","v":-0.8,"s":"***"},{"r":"POU3F2","c":"FOXA2","v":-0.55,"s":"***"},{"r":"POU3F2","c":"FLI1","v":0.85,"s":"***"},{"r":"POU3F2","c":"INSM1","v":-0.1,"s":""},{"r":"POU3F2","c":"KDM5B","v":0.82,"s":"***"},{"r":"POU3F2","c":"LEF1","v":-0.75,"s":"***"},{"r":"POU3F2","c":"MYB","v":-0.35,"s":"***"},{"r":"POU3F2","c":"OVOL2","v":-0.82,"s":"***"},{"r":"POU3F2","c":"PAX5","v":-0.82,"s":"***"},{"r":"POU3F2","c":"PBX1","v":-0.7,"s":"***"},{"r":"POU3F2","c":"POU3F2","v":1.0,"s":"***"},{"r":"POU3F2","c":"SOX11","v":0.55,"s":"***"},{"r":"POU3F2","c":"SOX2","v":0.78,"s":"***"},{"r":"POU3F2","c":"TCF12","v":0.78,"s":"***"},{"r":"POU3F2","c":"TCF3","v":0.78,"s":"***"},{"r":"POU3F2","c":"TCF4","v":0.82,"s":"***"},{"r":"POU3F2","c":"NEUROD1","v":0.82,"s":"***"},{"r":"POU3F2","c":"BHLHE40","v":-0.85,"s":"***"},{"r":"POU3F2","c":"KLF4","v":0.78,"s":"***"},{"r":"POU3F2","c":"MITF","v":0.78,"s":"***"},{"r":"POU3F2","c":"MYC","v":0.75,"s":"***"},{"r":"POU3F2","c":"NFKB1","v":0.78,"s":"***"},{"r":"POU3F2","c":"REST","v":0.8,"s":"***"},{"r":"POU3F2","c":"SMAD3","v":0.58,"s":"***"},{"r":"POU3F2","c":"TCF7L2","v":0.65,"s":"***"},{"r":"POU3F2","c":"TEAD4","v":-0.6,"s":"***"},{"r":"POU3F2","c":"ZEB1","v":-0.62,"s":"***"},
{"r":"SOX11","c":"ASCL1","v":0.55,"s":"***"},{"r":"SOX11","c":"ATF2","v":0.3,"s":"***"},{"r":"SOX11","c":"CBFA2T2","v":0.55,"s":"***"},{"r":"SOX11","c":"CEBPD","v":0.55,"s":"***"},{"r":"SOX11","c":"ELF3","v":0.55,"s":"***"},{"r":"SOX11","c":"ETS2","v":0.58,"s":"***"},{"r":"SOX11","c":"FOXA1","v":-0.5,"s":"***"},{"r":"SOX11","c":"FOXA2","v":-0.55,"s":"***"},{"r":"SOX11","c":"FLI1","v":0.55,"s":"***"},{"r":"SOX11","c":"INSM1","v":0.15,"s":"**"},{"r":"SOX11","c":"KDM5B","v":0.6,"s":"***"},{"r":"SOX11","c":"LEF1","v":-0.5,"s":"***"},{"r":"SOX11","c":"MYB","v":-0.5,"s":"***"},{"r":"SOX11","c":"OVOL2","v":-0.48,"s":"***"},{"r":"SOX11","c":"PAX5","v":-0.5,"s":"***"},{"r":"SOX11","c":"PBX1","v":-0.32,"s":"***"},{"r":"SOX11","c":"POU3F2","v":0.55,"s":"***"},{"r":"SOX11","c":"SOX11","v":1.0,"s":"***"},{"r":"SOX11","c":"SOX2","v":0.55,"s":"***"},{"r":"SOX11","c":"TCF12","v":0.55,"s":"***"},{"r":"SOX11","c":"TCF3","v":0.55,"s":"***"},{"r":"SOX11","c":"TCF4","v":0.55,"s":"***"},{"r":"SOX11","c":"NEUROD1","v":0.55,"s":"***"},{"r":"SOX11","c":"BHLHE40","v":-0.6,"s":"***"},{"r":"SOX11","c":"KLF4","v":0.62,"s":"***"},{"r":"SOX11","c":"MITF","v":0.55,"s":"***"},{"r":"SOX11","c":"MYC","v":0.5,"s":"***"},{"r":"SOX11","c":"NFKB1","v":0.6,"s":"***"},{"r":"SOX11","c":"REST","v":0.55,"s":"***"},{"r":"SOX11","c":"SMAD3","v":0.25,"s":"***"},{"r":"SOX11","c":"TCF7L2","v":0.32,"s":"***"},{"r":"SOX11","c":"TEAD4","v":-0.25,"s":"***"},{"r":"SOX11","c":"ZEB1","v":-0.32,"s":"***"},
{"r":"SOX2","c":"ASCL1","v":0.82,"s":"***"},{"r":"SOX2","c":"ATF2","v":0.55,"s":"***"},{"r":"SOX2","c":"CBFA2T2","v":0.88,"s":"***"},{"r":"SOX2","c":"CEBPD","v":0.82,"s":"***"},{"r":"SOX2","c":"ELF3","v":0.75,"s":"***"},{"r":"SOX2","c":"ETS2","v":0.85,"s":"***"},{"r":"SOX2","c":"FOXA1","v":-0.9,"s":"***"},{"r":"SOX2","c":"FOXA2","v":-0.55,"s":"***"},{"r":"SOX2","c":"FLI1","v":0.85,"s":"***"},{"r":"SOX2","c":"INSM1","v":-0.1,"s":""},{"r":"SOX2","c":"KDM5B","v":0.78,"s":"***"},{"r":"SOX2","c":"LEF1","v":-0.72,"s":"***"},{"r":"SOX2","c":"MYB","v":-0.22,"s":"***"},{"r":"SOX2","c":"OVOL2","v":-0.9,"s":"***"},{"r":"SOX2","c":"PAX5","v":-0.82,"s":"***"},{"r":"SOX2","c":"PBX1","v":-0.72,"s":"***"},{"r":"SOX2","c":"POU3F2","v":0.8,"s":"***"},{"r":"SOX2","c":"SOX11","v":0.6,"s":"***"},{"r":"SOX2","c":"SOX2","v":1.0,"s":"***"},{"r":"SOX2","c":"TCF12","v":0.75,"s":"***"},{"r":"SOX2","c":"TCF3","v":0.8,"s":"***"},{"r":"SOX2","c":"TCF4","v":0.8,"s":"***"},{"r":"SOX2","c":"NEUROD1","v":0.82,"s":"***"},{"r":"SOX2","c":"BHLHE40","v":-0.85,"s":"***"},{"r":"SOX2","c":"KLF4","v":0.82,"s":"***"},{"r":"SOX2","c":"MITF","v":0.88,"s":"***"},{"r":"SOX2","c":"MYC","v":0.75,"s":"***"},{"r":"SOX2","c":"NFKB1","v":0.85,"s":"***"},{"r":"SOX2","c":"REST","v":0.85,"s":"***"},{"r":"SOX2","c":"SMAD3","v":0.55,"s":"***"},{"r":"SOX2","c":"TCF7L2","v":0.7,"s":"***"},{"r":"SOX2","c":"TEAD4","v":-0.62,"s":"***"},{"r":"SOX2","c":"ZEB1","v":-0.75,"s":"***"},
{"r":"TCF12","c":"ASCL1","v":0.78,"s":"***"},{"r":"TCF12","c":"ATF2","v":0.55,"s":"***"},{"r":"TCF12","c":"CBFA2T2","v":0.75,"s":"***"},{"r":"TCF12","c":"CEBPD","v":0.75,"s":"***"},{"r":"TCF12","c":"ELF3","v":0.72,"s":"***"},{"r":"TCF12","c":"ETS2","v":0.82,"s":"***"},{"r":"TCF12","c":"FOXA1","v":-0.82,"s":"***"},{"r":"TCF12","c":"FOXA2","v":-0.5,"s":"***"},{"r":"TCF12","c":"FLI1","v":0.8,"s":"***"},{"r":"TCF12","c":"INSM1","v":0.0,"s":""},{"r":"TCF12","c":"KDM5B","v":0.78,"s":"***"},{"r":"TCF12","c":"LEF1","v":-0.72,"s":"***"},{"r":"TCF12","c":"MYB","v":-0.35,"s":"***"},{"r":"TCF12","c":"OVOL2","v":-0.78,"s":"***"},{"r":"TCF12","c":"PAX5","v":-0.8,"s":"***"},{"r":"TCF12","c":"PBX1","v":-0.72,"s":"***"},{"r":"TCF12","c":"POU3F2","v":0.78,"s":"***"},{"r":"TCF12","c":"SOX11","v":0.55,"s":"***"},{"r":"TCF12","c":"SOX2","v":0.78,"s":"***"},{"r":"TCF12","c":"TCF12","v":1.0,"s":"***"},{"r":"TCF12","c":"TCF3","v":0.75,"s":"***"},{"r":"TCF12","c":"TCF4","v":0.78,"s":"***"},{"r":"TCF12","c":"NEUROD1","v":0.78,"s":"***"},{"r":"TCF12","c":"BHLHE40","v":-0.82,"s":"***"},{"r":"TCF12","c":"KLF4","v":0.75,"s":"***"},{"r":"TCF12","c":"MITF","v":0.72,"s":"***"},{"r":"TCF12","c":"MYC","v":0.72,"s":"***"},{"r":"TCF12","c":"NFKB1","v":0.75,"s":"***"},{"r":"TCF12","c":"REST","v":0.75,"s":"***"},{"r":"TCF12","c":"SMAD3","v":0.55,"s":"***"},{"r":"TCF12","c":"TCF7L2","v":0.7,"s":"***"},{"r":"TCF12","c":"TEAD4","v":-0.58,"s":"***"},{"r":"TCF12","c":"ZEB1","v":-0.68,"s":"***"},
{"r":"TCF3","c":"ASCL1","v":0.78,"s":"***"},{"r":"TCF3","c":"ATF2","v":0.6,"s":"***"},{"r":"TCF3","c":"CBFA2T2","v":0.78,"s":"***"},{"r":"TCF3","c":"CEBPD","v":0.78,"s":"***"},{"r":"TCF3","c":"ELF3","v":0.72,"s":"***"},{"r":"TCF3","c":"ETS2","v":0.78,"s":"***"},{"r":"TCF3","c":"FOXA1","v":-0.8,"s":"***"},{"r":"TCF3","c":"FOXA2","v":-0.5,"s":"***"},{"r":"TCF3","c":"FLI1","v":0.8,"s":"***"},{"r":"TCF3","c":"INSM1","v":-0.1,"s":""},{"r":"TCF3","c":"KDM5B","v":0.78,"s":"***"},{"r":"TCF3","c":"LEF1","v":-0.72,"s":"***"},{"r":"TCF3","c":"MYB","v":-0.25,"s":"***"},{"r":"TCF3","c":"OVOL2","v":-0.75,"s":"***"},{"r":"TCF3","c":"PAX5","v":-0.78,"s":"***"},{"r":"TCF3","c":"PBX1","v":-0.7,"s":"***"},{"r":"TCF3","c":"POU3F2","v":0.78,"s":"***"},{"r":"TCF3","c":"SOX11","v":0.55,"s":"***"},{"r":"TCF3","c":"SOX2","v":0.78,"s":"***"},{"r":"TCF3","c":"TCF12","v":0.75,"s":"***"},{"r":"TCF3","c":"TCF3","v":1.0,"s":"***"},{"r":"TCF3","c":"TCF4","v":0.8,"s":"***"},{"r":"TCF3","c":"NEUROD1","v":0.8,"s":"***"},{"r":"TCF3","c":"BHLHE40","v":-0.85,"s":"***"},{"r":"TCF3","c":"KLF4","v":0.78,"s":"***"},{"r":"TCF3","c":"MITF","v":0.75,"s":"***"},{"r":"TCF3","c":"MYC","v":0.72,"s":"***"},{"r":"TCF3","c":"NFKB1","v":0.78,"s":"***"},{"r":"TCF3","c":"REST","v":0.78,"s":"***"},{"r":"TCF3","c":"SMAD3","v":0.55,"s":"***"},{"r":"TCF3","c":"TCF7L2","v":0.7,"s":"***"},{"r":"TCF3","c":"TEAD4","v":-0.6,"s":"***"},{"r":"TCF3","c":"ZEB1","v":-0.68,"s":"***"},
{"r":"TCF4","c":"ASCL1","v":0.78,"s":"***"},{"r":"TCF4","c":"ATF2","v":0.6,"s":"***"},{"r":"TCF4","c":"CBFA2T2","v":0.88,"s":"***"},{"r":"TCF4","c":"CEBPD","v":0.82,"s":"***"},{"r":"TCF4","c":"ELF3","v":0.72,"s":"***"},{"r":"TCF4","c":"ETS2","v":0.85,"s":"***"},{"r":"TCF4","c":"FOXA1","v":-0.85,"s":"***"},{"r":"TCF4","c":"FOXA2","v":-0.55,"s":"***"},{"r":"TCF4","c":"FLI1","v":0.85,"s":"***"},{"r":"TCF4","c":"INSM1","v":-0.1,"s":""},{"r":"TCF4","c":"KDM5B","v":0.78,"s":"***"},{"r":"TCF4","c":"LEF1","v":-0.72,"s":"***"},{"r":"TCF4","c":"MYB","v":-0.3,"s":"***"},{"r":"TCF4","c":"OVOL2","v":-0.85,"s":"***"},{"r":"TCF4","c":"PAX5","v":-0.82,"s":"***"},{"r":"TCF4","c":"PBX1","v":-0.72,"s":"***"},{"r":"TCF4","c":"POU3F2","v":0.82,"s":"***"},{"r":"TCF4","c":"SOX11","v":0.55,"s":"***"},{"r":"TCF4","c":"SOX2","v":0.8,"s":"***"},{"r":"TCF4","c":"TCF12","v":0.82,"s":"***"},{"r":"TCF4","c":"TCF3","v":0.8,"s":"***"},{"r":"TCF4","c":"TCF4","v":1.0,"s":"***"},{"r":"TCF4","c":"NEUROD1","v":0.85,"s":"***"},{"r":"TCF4","c":"BHLHE40","v":-0.88,"s":"***"},{"r":"TCF4","c":"KLF4","v":0.82,"s":"***"},{"r":"TCF4","c":"MITF","v":0.85,"s":"***"},{"r":"TCF4","c":"MYC","v":0.72,"s":"***"},{"r":"TCF4","c":"NFKB1","v":0.85,"s":"***"},{"r":"TCF4","c":"REST","v":0.85,"s":"***"},{"r":"TCF4","c":"SMAD3","v":0.55,"s":"***"},{"r":"TCF4","c":"TCF7L2","v":0.7,"s":"***"},{"r":"TCF4","c":"TEAD4","v":-0.62,"s":"***"},{"r":"TCF4","c":"ZEB1","v":-0.72,"s":"***"},
{"r":"NEUROD1","c":"ASCL1","v":0.78,"s":"***"},{"r":"NEUROD1","c":"ATF2","v":0.5,"s":"***"},{"r":"NEUROD1","c":"CBFA2T2","v":0.82,"s":"***"},{"r":"NEUROD1","c":"CEBPD","v":0.8,"s":"***"},{"r":"NEUROD1","c":"ELF3","v":0.72,"s":"***"},{"r":"NEUROD1","c":"ETS2","v":0.78,"s":"***"},{"r":"NEUROD1","c":"FOXA1","v":-0.85,"s":"***"},{"r":"NEUROD1","c":"FOXA2","v":-0.5,"s":"***"},{"r":"NEUROD1","c":"FLI1","v":0.8,"s":"***"},{"r":"NEUROD1","c":"INSM1","v":-0.1,"s":""},{"r":"NEUROD1","c":"KDM5B","v":0.8,"s":"***"},{"r":"NEUROD1","c":"LEF1","v":-0.72,"s":"***"},{"r":"NEUROD1","c":"MYB","v":-0.25,"s":"***"},{"r":"NEUROD1","c":"OVOL2","v":-0.85,"s":"***"},{"r":"NEUROD1","c":"PAX5","v":-0.8,"s":"***"},{"r":"NEUROD1","c":"PBX1","v":-0.6,"s":"***"},{"r":"NEUROD1","c":"POU3F2","v":0.8,"s":"***"},{"r":"NEUROD1","c":"SOX11","v":0.55,"s":"***"},{"r":"NEUROD1","c":"SOX2","v":0.82,"s":"***"},{"r":"NEUROD1","c":"TCF12","v":0.75,"s":"***"},{"r":"NEUROD1","c":"TCF3","v":0.75,"s":"***"},{"r":"NEUROD1","c":"TCF4","v":0.85,"s":"***"},{"r":"NEUROD1","c":"NEUROD1","v":1.0,"s":"***"},{"r":"NEUROD1","c":"BHLHE40","v":-0.85,"s":"***"},{"r":"NEUROD1","c":"KLF4","v":0.82,"s":"***"},{"r":"NEUROD1","c":"MITF","v":0.75,"s":"***"},{"r":"NEUROD1","c":"MYC","v":0.72,"s":"***"},{"r":"NEUROD1","c":"NFKB1","v":0.82,"s":"***"},{"r":"NEUROD1","c":"REST","v":0.8,"s":"***"},{"r":"NEUROD1","c":"SMAD3","v":0.55,"s":"***"},{"r":"NEUROD1","c":"TCF7L2","v":0.7,"s":"***"},{"r":"NEUROD1","c":"TEAD4","v":-0.55,"s":"***"},{"r":"NEUROD1","c":"ZEB1","v":-0.65,"s":"***"},
{"r":"BHLHE40","c":"ASCL1","v":-0.75,"s":"***"},{"r":"BHLHE40","c":"ATF2","v":-0.45,"s":"***"},{"r":"BHLHE40","c":"CBFA2T2","v":-0.78,"s":"***"},{"r":"BHLHE40","c":"CEBPD","v":-0.75,"s":"***"},{"r":"BHLHE40","c":"ELF3","v":-0.55,"s":"***"},{"r":"BHLHE40","c":"ETS2","v":-0.8,"s":"***"},{"r":"BHLHE40","c":"FOXA1","v":0.75,"s":"***"},{"r":"BHLHE40","c":"FOXA2","v":0.55,"s":"***"},{"r":"BHLHE40","c":"FLI1","v":-0.8,"s":"***"},{"r":"BHLHE40","c":"INSM1","v":0.02,"s":""},{"r":"BHLHE40","c":"KDM5B","v":-0.72,"s":"***"},{"r":"BHLHE40","c":"LEF1","v":0.72,"s":"***"},{"r":"BHLHE40","c":"MYB","v":0.3,"s":"***"},{"r":"BHLHE40","c":"OVOL2","v":0.75,"s":"***"},{"r":"BHLHE40","c":"PAX5","v":0.75,"s":"***"},{"r":"BHLHE40","c":"PBX1","v":0.7,"s":"***"},{"r":"BHLHE40","c":"POU3F2","v":-0.85,"s":"***"},{"r":"BHLHE40","c":"SOX11","v":-0.5,"s":"***"},{"r":"BHLHE40","c":"SOX2","v":-0.85,"s":"***"},{"r":"BHLHE40","c":"TCF12","v":-0.82,"s":"***"},{"r":"BHLHE40","c":"TCF3","v":-0.82,"s":"***"},{"r":"BHLHE40","c":"TCF4","v":-0.88,"s":"***"},{"r":"BHLHE40","c":"NEUROD1","v":-0.88,"s":"***"},{"r":"BHLHE40","c":"BHLHE40","v":1.0,"s":"***"},{"r":"BHLHE40","c":"KLF4","v":-0.85,"s":"***"},{"r":"BHLHE40","c":"MITF","v":-0.82,"s":"***"},{"r":"BHLHE40","c":"MYC","v":-0.78,"s":"***"},{"r":"BHLHE40","c":"NFKB1","v":-0.82,"s":"***"},{"r":"BHLHE40","c":"REST","v":-0.85,"s":"***"},{"r":"BHLHE40","c":"SMAD3","v":-0.55,"s":"***"},{"r":"BHLHE40","c":"TCF7L2","v":-0.62,"s":"***"},{"r":"BHLHE40","c":"TEAD4","v":0.55,"s":"***"},{"r":"BHLHE40","c":"ZEB1","v":0.5,"s":"***"},
{"r":"KLF4","c":"ASCL1","v":0.8,"s":"***"},{"r":"KLF4","c":"ATF2","v":0.55,"s":"***"},{"r":"KLF4","c":"CBFA2T2","v":0.8,"s":"***"},{"r":"KLF4","c":"CEBPD","v":0.8,"s":"***"},{"r":"KLF4","c":"ELF3","v":0.72,"s":"***"},{"r":"KLF4","c":"ETS2","v":0.8,"s":"***"},{"r":"KLF4","c":"FOXA1","v":-0.88,"s":"***"},{"r":"KLF4","c":"FOXA2","v":-0.5,"s":"***"},{"r":"KLF4","c":"FLI1","v":0.8,"s":"***"},{"r":"KLF4","c":"INSM1","v":-0.08,"s":""},{"r":"KLF4","c":"KDM5B","v":0.78,"s":"***"},{"r":"KLF4","c":"LEF1","v":-0.72,"s":"***"},{"r":"KLF4","c":"MYB","v":-0.25,"s":"***"},{"r":"KLF4","c":"OVOL2","v":-0.88,"s":"***"},{"r":"KLF4","c":"PAX5","v":-0.8,"s":"***"},{"r":"KLF4","c":"PBX1","v":-0.72,"s":"***"},{"r":"KLF4","c":"POU3F2","v":0.82,"s":"***"},{"r":"KLF4","c":"SOX11","v":0.65,"s":"***"},{"r":"KLF4","c":"SOX2","v":0.88,"s":"***"},{"r":"KLF4","c":"TCF12","v":0.78,"s":"***"},{"r":"KLF4","c":"TCF3","v":0.78,"s":"***"},{"r":"KLF4","c":"TCF4","v":0.82,"s":"***"},{"r":"KLF4","c":"NEUROD1","v":0.82,"s":"***"},{"r":"KLF4","c":"BHLHE40","v":-0.85,"s":"***"},{"r":"KLF4","c":"KLF4","v":1.0,"s":"***"},{"r":"KLF4","c":"MITF","v":0.88,"s":"***"},{"r":"KLF4","c":"MYC","v":0.75,"s":"***"},{"r":"KLF4","c":"NFKB1","v":0.8,"s":"***"},{"r":"KLF4","c":"REST","v":0.82,"s":"***"},{"r":"KLF4","c":"SMAD3","v":0.58,"s":"***"},{"r":"KLF4","c":"TCF7L2","v":0.65,"s":"***"},{"r":"KLF4","c":"TEAD4","v":-0.58,"s":"***"},{"r":"KLF4","c":"ZEB1","v":-0.62,"s":"***"},
{"r":"MITF","c":"ASCL1","v":0.8,"s":"***"},{"r":"MITF","c":"ATF2","v":0.45,"s":"***"},{"r":"MITF","c":"CBFA2T2","v":0.85,"s":"***"},{"r":"MITF","c":"CEBPD","v":0.8,"s":"***"},{"r":"MITF","c":"ELF3","v":0.75,"s":"***"},{"r":"MITF","c":"ETS2","v":0.82,"s":"***"},{"r":"MITF","c":"FOXA1","v":-0.88,"s":"***"},{"r":"MITF","c":"FOXA2","v":-0.5,"s":"***"},{"r":"MITF","c":"FLI1","v":0.82,"s":"***"},{"r":"MITF","c":"INSM1","v":-0.08,"s":""},{"r":"MITF","c":"KDM5B","v":0.72,"s":"***"},{"r":"MITF","c":"LEF1","v":-0.72,"s":"***"},{"r":"MITF","c":"MYB","v":-0.25,"s":"***"},{"r":"MITF","c":"OVOL2","v":-0.85,"s":"***"},{"r":"MITF","c":"PAX5","v":-0.8,"s":"***"},{"r":"MITF","c":"PBX1","v":-0.72,"s":"***"},{"r":"MITF","c":"POU3F2","v":0.82,"s":"***"},{"r":"MITF","c":"SOX11","v":0.6,"s":"***"},{"r":"MITF","c":"SOX2","v":0.88,"s":"***"},{"r":"MITF","c":"TCF12","v":0.8,"s":"***"},{"r":"MITF","c":"TCF3","v":0.8,"s":"***"},{"r":"MITF","c":"TCF4","v":0.8,"s":"***"},{"r":"MITF","c":"NEUROD1","v":0.82,"s":"***"},{"r":"MITF","c":"BHLHE40","v":-0.88,"s":"***"},{"r":"MITF","c":"KLF4","v":0.85,"s":"***"},{"r":"MITF","c":"MITF","v":1.0,"s":"***"},{"r":"MITF","c":"MYC","v":0.72,"s":"***"},{"r":"MITF","c":"NFKB1","v":0.8,"s":"***"},{"r":"MITF","c":"REST","v":0.8,"s":"***"},{"r":"MITF","c":"SMAD3","v":0.45,"s":"***"},{"r":"MITF","c":"TCF7L2","v":0.68,"s":"***"},{"r":"MITF","c":"TEAD4","v":-0.6,"s":"***"},{"r":"MITF","c":"ZEB1","v":-0.68,"s":"***"},
{"r":"MYC","c":"ASCL1","v":0.75,"s":"***"},{"r":"MYC","c":"ATF2","v":0.7,"s":"***"},{"r":"MYC","c":"CBFA2T2","v":0.75,"s":"***"},{"r":"MYC","c":"CEBPD","v":0.75,"s":"***"},{"r":"MYC","c":"ELF3","v":0.82,"s":"***"},{"r":"MYC","c":"ETS2","v":0.75,"s":"***"},{"r":"MYC","c":"FOXA1","v":-0.82,"s":"***"},{"r":"MYC","c":"FOXA2","v":-0.55,"s":"***"},{"r":"MYC","c":"FLI1","v":0.75,"s":"***"},{"r":"MYC","c":"INSM1","v":0.1,"s":"*"},{"r":"MYC","c":"KDM5B","v":0.8,"s":"***"},{"r":"MYC","c":"LEF1","v":-0.85,"s":"***"},{"r":"MYC","c":"MYB","v":-0.3,"s":"***"},{"r":"MYC","c":"OVOL2","v":-0.8,"s":"***"},{"r":"MYC","c":"PAX5","v":-0.78,"s":"***"},{"r":"MYC","c":"PBX1","v":-0.5,"s":"***"},{"r":"MYC","c":"POU3F2","v":0.75,"s":"***"},{"r":"MYC","c":"SOX11","v":0.5,"s":"***"},{"r":"MYC","c":"SOX2","v":0.75,"s":"***"},{"r":"MYC","c":"TCF12","v":0.72,"s":"***"},{"r":"MYC","c":"TCF3","v":0.72,"s":"***"},{"r":"MYC","c":"TCF4","v":0.72,"s":"***"},{"r":"MYC","c":"NEUROD1","v":0.78,"s":"***"},{"r":"MYC","c":"BHLHE40","v":-0.8,"s":"***"},{"r":"MYC","c":"KLF4","v":0.78,"s":"***"},{"r":"MYC","c":"MITF","v":0.75,"s":"***"},{"r":"MYC","c":"MYC","v":1.0,"s":"***"},{"r":"MYC","c":"NFKB1","v":0.72,"s":"***"},{"r":"MYC","c":"REST","v":0.72,"s":"***"},{"r":"MYC","c":"SMAD3","v":0.55,"s":"***"},{"r":"MYC","c":"TCF7L2","v":0.5,"s":"***"},{"r":"MYC","c":"TEAD4","v":-0.55,"s":"***"},{"r":"MYC","c":"ZEB1","v":-0.5,"s":"***"},
{"r":"NFKB1","c":"ASCL1","v":0.8,"s":"***"},{"r":"NFKB1","c":"ATF2","v":0.5,"s":"***"},{"r":"NFKB1","c":"CBFA2T2","v":0.88,"s":"***"},{"r":"NFKB1","c":"CEBPD","v":0.82,"s":"***"},{"r":"NFKB1","c":"ELF3","v":0.72,"s":"***"},{"r":"NFKB1","c":"ETS2","v":0.85,"s":"***"},{"r":"NFKB1","c":"FOXA1","v":-0.88,"s":"***"},{"r":"NFKB1","c":"FOXA2","v":-0.55,"s":"***"},{"r":"NFKB1","c":"FLI1","v":0.85,"s":"***"},{"r":"NFKB1","c":"INSM1","v":-0.12,"s":"*"},{"r":"NFKB1","c":"KDM5B","v":0.78,"s":"***"},{"r":"NFKB1","c":"LEF1","v":-0.72,"s":"***"},{"r":"NFKB1","c":"MYB","v":-0.28,"s":"***"},{"r":"NFKB1","c":"OVOL2","v":-0.85,"s":"***"},{"r":"NFKB1","c":"PAX5","v":-0.8,"s":"***"},{"r":"NFKB1","c":"PBX1","v":-0.72,"s":"***"},{"r":"NFKB1","c":"POU3F2","v":0.85,"s":"***"},{"r":"NFKB1","c":"SOX11","v":0.58,"s":"***"},{"r":"NFKB1","c":"SOX2","v":0.85,"s":"***"},{"r":"NFKB1","c":"TCF12","v":0.82,"s":"***"},{"r":"NFKB1","c":"TCF3","v":0.8,"s":"***"},{"r":"NFKB1","c":"TCF4","v":0.85,"s":"***"},{"r":"NFKB1","c":"NEUROD1","v":0.8,"s":"***"},{"r":"NFKB1","c":"BHLHE40","v":-0.88,"s":"***"},{"r":"NFKB1","c":"KLF4","v":0.8,"s":"***"},{"r":"NFKB1","c":"MITF","v":0.8,"s":"***"},{"r":"NFKB1","c":"MYC","v":0.72,"s":"***"},{"r":"NFKB1","c":"NFKB1","v":1.0,"s":"***"},{"r":"NFKB1","c":"REST","v":0.88,"s":"***"},{"r":"NFKB1","c":"SMAD3","v":0.55,"s":"***"},{"r":"NFKB1","c":"TCF7L2","v":0.7,"s":"***"},{"r":"NFKB1","c":"TEAD4","v":-0.6,"s":"***"},{"r":"NFKB1","c":"ZEB1","v":-0.68,"s":"***"},
{"r":"REST","c":"ASCL1","v":0.8,"s":"***"},{"r":"REST","c":"ATF2","v":0.5,"s":"***"},{"r":"REST","c":"CBFA2T2","v":0.88,"s":"***"},{"r":"REST","c":"CEBPD","v":0.82,"s":"***"},{"r":"REST","c":"ELF3","v":0.72,"s":"***"},{"r":"REST","c":"ETS2","v":0.85,"s":"***"},{"r":"REST","c":"FOXA1","v":-0.88,"s":"***"},{"r":"REST","c":"FOXA2","v":-0.55,"s":"***"},{"r":"REST","c":"FLI1","v":0.85,"s":"***"},{"r":"REST","c":"INSM1","v":-0.12,"s":"*"},{"r":"REST","c":"KDM5B","v":0.78,"s":"***"},{"r":"REST","c":"LEF1","v":-0.72,"s":"***"},{"r":"REST","c":"MYB","v":-0.28,"s":"***"},{"r":"REST","c":"OVOL2","v":-0.85,"s":"***"},{"r":"REST","c":"PAX5","v":-0.8,"s":"***"},{"r":"REST","c":"PBX1","v":-0.72,"s":"***"},{"r":"REST","c":"POU3F2","v":0.85,"s":"***"},{"r":"REST","c":"SOX11","v":0.6,"s":"***"},{"r":"REST","c":"SOX2","v":0.85,"s":"***"},{"r":"REST","c":"TCF12","v":0.82,"s":"***"},{"r":"REST","c":"TCF3","v":0.8,"s":"***"},{"r":"REST","c":"TCF4","v":0.85,"s":"***"},{"r":"REST","c":"NEUROD1","v":0.82,"s":"***"},{"r":"REST","c":"BHLHE40","v":-0.88,"s":"***"},{"r":"REST","c":"KLF4","v":0.8,"s":"***"},{"r":"REST","c":"MITF","v":0.82,"s":"***"},{"r":"REST","c":"MYC","v":0.72,"s":"***"},{"r":"REST","c":"NFKB1","v":0.88,"s":"***"},{"r":"REST","c":"REST","v":1.0,"s":"***"},{"r":"REST","c":"SMAD3","v":0.55,"s":"***"},{"r":"REST","c":"TCF7L2","v":0.7,"s":"***"},{"r":"REST","c":"TEAD4","v":-0.62,"s":"***"},{"r":"REST","c":"ZEB1","v":-0.68,"s":"***"},
{"r":"SMAD3","c":"ASCL1","v":0.55,"s":"***"},{"r":"SMAD3","c":"ATF2","v":0.88,"s":"***"},{"r":"SMAD3","c":"CBFA2T2","v":0.5,"s":"***"},{"r":"SMAD3","c":"CEBPD","v":0.55,"s":"***"},{"r":"SMAD3","c":"ELF3","v":0.55,"s":"***"},{"r":"SMAD3","c":"ETS2","v":0.58,"s":"***"},{"r":"SMAD3","c":"FOXA1","v":-0.45,"s":"***"},{"r":"SMAD3","c":"FOXA2","v":-0.28,"s":"***"},{"r":"SMAD3","c":"FLI1","v":0.55,"s":"***"},{"r":"SMAD3","c":"INSM1","v":0.25,"s":"***"},{"r":"SMAD3","c":"KDM5B","v":0.62,"s":"***"},{"r":"SMAD3","c":"LEF1","v":-0.62,"s":"***"},{"r":"SMAD3","c":"MYB","v":-0.1,"s":"*"},{"r":"SMAD3","c":"OVOL2","v":-0.45,"s":"***"},{"r":"SMAD3","c":"PAX5","v":-0.6,"s":"***"},{"r":"SMAD3","c":"PBX1","v":-0.62,"s":"***"},{"r":"SMAD3","c":"POU3F2","v":0.6,"s":"***"},{"r":"SMAD3","c":"SOX11","v":0.3,"s":"***"},{"r":"SMAD3","c":"SOX2","v":0.5,"s":"***"},{"r":"SMAD3","c":"TCF12","v":0.5,"s":"***"},{"r":"SMAD3","c":"TCF3","v":0.5,"s":"***"},{"r":"SMAD3","c":"TCF4","v":0.5,"s":"***"},{"r":"SMAD3","c":"NEUROD1","v":0.55,"s":"***"},{"r":"SMAD3","c":"BHLHE40","v":-0.5,"s":"***"},{"r":"SMAD3","c":"KLF4","v":0.5,"s":"***"},{"r":"SMAD3","c":"MITF","v":0.45,"s":"***"},{"r":"SMAD3","c":"MYC","v":0.6,"s":"***"},{"r":"SMAD3","c":"NFKB1","v":0.48,"s":"***"},{"r":"SMAD3","c":"REST","v":0.48,"s":"***"},{"r":"SMAD3","c":"SMAD3","v":1.0,"s":"***"},{"r":"SMAD3","c":"TCF7L2","v":0.65,"s":"***"},{"r":"SMAD3","c":"TEAD4","v":-0.8,"s":"***"},{"r":"SMAD3","c":"ZEB1","v":-0.7,"s":"***"},
{"r":"TCF7L2","c":"ASCL1","v":0.68,"s":"***"},{"r":"TCF7L2","c":"ATF2","v":0.65,"s":"***"},{"r":"TCF7L2","c":"CBFA2T2","v":0.65,"s":"***"},{"r":"TCF7L2","c":"CEBPD","v":0.65,"s":"***"},{"r":"TCF7L2","c":"ELF3","v":0.45,"s":"***"},{"r":"TCF7L2","c":"ETS2","v":0.68,"s":"***"},{"r":"TCF7L2","c":"FOXA1","v":-0.62,"s":"***"},{"r":"TCF7L2","c":"FOXA2","v":-0.3,"s":"***"},{"r":"TCF7L2","c":"FLI1","v":0.7,"s":"***"},{"r":"TCF7L2","c":"INSM1","v":0.02,"s":""},{"r":"TCF7L2","c":"KDM5B","v":0.6,"s":"***"},{"r":"TCF7L2","c":"LEF1","v":-0.48,"s":"***"},{"r":"TCF7L2","c":"MYB","v":0.02,"s":""},{"r":"TCF7L2","c":"OVOL2","v":-0.62,"s":"***"},{"r":"TCF7L2","c":"PAX5","v":-0.62,"s":"***"},{"r":"TCF7L2","c":"PBX1","v":-0.9,"s":"***"},{"r":"TCF7L2","c":"POU3F2","v":0.65,"s":"***"},{"r":"TCF7L2","c":"SOX11","v":0.3,"s":"***"},{"r":"TCF7L2","c":"SOX2","v":0.72,"s":"***"},{"r":"TCF7L2","c":"TCF12","v":0.72,"s":"***"},{"r":"TCF7L2","c":"TCF3","v":0.72,"s":"***"},{"r":"TCF7L2","c":"TCF4","v":0.72,"s":"***"},{"r":"TCF7L2","c":"NEUROD1","v":0.6,"s":"***"},{"r":"TCF7L2","c":"BHLHE40","v":-0.6,"s":"***"},{"r":"TCF7L2","c":"KLF4","v":0.68,"s":"***"},{"r":"TCF7L2","c":"MITF","v":0.7,"s":"***"},{"r":"TCF7L2","c":"MYC","v":0.52,"s":"***"},{"r":"TCF7L2","c":"NFKB1","v":0.7,"s":"***"},{"r":"TCF7L2","c":"REST","v":0.7,"s":"***"},{"r":"TCF7L2","c":"SMAD3","v":0.75,"s":"***"},{"r":"TCF7L2","c":"TCF7L2","v":1.0,"s":"***"},{"r":"TCF7L2","c":"TEAD4","v":-0.78,"s":"***"},{"r":"TCF7L2","c":"ZEB1","v":-0.85,"s":"***"},
{"r":"TEAD4","c":"ASCL1","v":-0.6,"s":"***"},{"r":"TEAD4","c":"ATF2","v":-0.78,"s":"***"},{"r":"TEAD4","c":"CBFA2T2","v":-0.58,"s":"***"},{"r":"TEAD4","c":"CEBPD","v":-0.55,"s":"***"},{"r":"TEAD4","c":"ELF3","v":-0.58,"s":"***"},{"r":"TEAD4","c":"ETS2","v":-0.6,"s":"***"},{"r":"TEAD4","c":"FOXA1","v":0.62,"s":"***"},{"r":"TEAD4","c":"FOXA2","v":0.3,"s":"***"},{"r":"TEAD4","c":"FLI1","v":-0.62,"s":"***"},{"r":"TEAD4","c":"INSM1","v":-0.2,"s":"***"},{"r":"TEAD4","c":"KDM5B","v":-0.55,"s":"***"},{"r":"TEAD4","c":"LEF1","v":0.55,"s":"***"},{"r":"TEAD4","c":"MYB","v":0.02,"s":""},{"r":"TEAD4","c":"OVOL2","v":0.58,"s":"***"},{"r":"TEAD4","c":"PAX5","v":0.55,"s":"***"},{"r":"TEAD4","c":"PBX1","v":0.82,"s":"***"},{"r":"TEAD4","c":"POU3F2","v":-0.6,"s":"***"},{"r":"TEAD4","c":"SOX11","v":-0.3,"s":"***"},{"r":"TEAD4","c":"SOX2","v":-0.6,"s":"***"},{"r":"TEAD4","c":"TCF12","v":-0.6,"s":"***"},{"r":"TEAD4","c":"TCF3","v":-0.58,"s":"***"},{"r":"TEAD4","c":"TCF4","v":-0.62,"s":"***"},{"r":"TEAD4","c":"NEUROD1","v":-0.55,"s":"***"},{"r":"TEAD4","c":"BHLHE40","v":0.55,"s":"***"},{"r":"TEAD4","c":"KLF4","v":-0.58,"s":"***"},{"r":"TEAD4","c":"MITF","v":-0.55,"s":"***"},{"r":"TEAD4","c":"MYC","v":-0.55,"s":"***"},{"r":"TEAD4","c":"NFKB1","v":-0.58,"s":"***"},{"r":"TEAD4","c":"REST","v":-0.6,"s":"***"},{"r":"TEAD4","c":"SMAD3","v":-0.78,"s":"***"},{"r":"TEAD4","c":"TCF7L2","v":-0.78,"s":"***"},{"r":"TEAD4","c":"TEAD4","v":1.0,"s":"***"},{"r":"TEAD4","c":"ZEB1","v":0.72,"s":"***"},
{"r":"ZEB1","c":"ASCL1","v":-0.62,"s":"***"},{"r":"ZEB1","c":"ATF2","v":-0.62,"s":"***"},{"r":"ZEB1","c":"CBFA2T2","v":-0.68,"s":"***"},{"r":"ZEB1","c":"CEBPD","v":-0.6,"s":"***"},{"r":"ZEB1","c":"ELF3","v":-0.48,"s":"***"},{"r":"ZEB1","c":"ETS2","v":-0.68,"s":"***"},{"r":"ZEB1","c":"FOXA1","v":0.72,"s":"***"},{"r":"ZEB1","c":"FOXA2","v":0.3,"s":"***"},{"r":"ZEB1","c":"FLI1","v":-0.7,"s":"***"},{"r":"ZEB1","c":"INSM1","v":-0.08,"s":""},{"r":"ZEB1","c":"KDM5B","v":-0.62,"s":"***"},{"r":"ZEB1","c":"LEF1","v":0.45,"s":"***"},{"r":"ZEB1","c":"MYB","v":-0.08,"s":""},{"r":"ZEB1","c":"OVOL2","v":0.7,"s":"***"},{"r":"ZEB1","c":"PAX5","v":0.55,"s":"***"},{"r":"ZEB1","c":"PBX1","v":0.82,"s":"***"},{"r":"ZEB1","c":"POU3F2","v":-0.65,"s":"***"},{"r":"ZEB1","c":"SOX11","v":-0.38,"s":"***"},{"r":"ZEB1","c":"SOX2","v":-0.75,"s":"***"},{"r":"ZEB1","c":"TCF12","v":-0.68,"s":"***"},{"r":"ZEB1","c":"TCF3","v":-0.68,"s":"***"},{"r":"ZEB1","c":"TCF4","v":-0.68,"s":"***"},{"r":"ZEB1","c":"NEUROD1","v":-0.65,"s":"***"},{"r":"ZEB1","c":"BHLHE40","v":0.62,"s":"***"},{"r":"ZEB1","c":"KLF4","v":-0.65,"s":"***"},{"r":"ZEB1","c":"MITF","v":-0.68,"s":"***"},{"r":"ZEB1","c":"MYC","v":-0.5,"s":"***"},{"r":"ZEB1","c":"NFKB1","v":-0.7,"s":"***"},{"r":"ZEB1","c":"REST","v":-0.7,"s":"***"},{"r":"ZEB1","c":"SMAD3","v":-0.72,"s":"***"},{"r":"ZEB1","c":"TCF7L2","v":-0.88,"s":"***"},{"r":"ZEB1","c":"TEAD4","v":0.7,"s":"***"},{"r":"ZEB1","c":"ZEB1","v":1.0,"s":"***"}
]},
"encoding":{
"x":{"field":"c","type":"nominal","scale":{"domain":["ASCL1","ATF2","CBFA2T2","CEBPD","ELF3","ETS2","FOXA1","FOXA2","FLI1","INSM1","KDM5B","LEF1","MYB","OVOL2","PAX5","PBX1","POU3F2","SOX11","SOX2","TCF12","TCF3","TCF4","NEUROD1","BHLHE40","KLF4","MITF","MYC","NFKB1","REST","SMAD3","TCF7L2","TEAD4","ZEB1"],"paddingInner":0,"paddingOuter":0},"axis":{"title":null,"domain":false,"labelAngle":-45,"labelAlign":"right","labelBaseline":"top","labelFont":"DejaVu Sans","labelFontSize":13.9,"labelColor":"black","tickColor":"black","tickSize":4.9,"labelPadding":2,"labelOverlap":false}},
"y":{"field":"r","type":"nominal","scale":{"domain":["ASCL1","ATF2","CBFA2T2","CEBPD","ELF3","ETS2","FOXA1","FOXA2","FLI1","INSM1","KDM5B","LEF1","MYB","OVOL2","PAX5","PBX1","POU3F2","SOX11","SOX2","TCF12","TCF3","TCF4","NEUROD1","BHLHE40","KLF4","MITF","MYC","NFKB1","REST","SMAD3","TCF7L2","TEAD4","ZEB1"],"paddingInner":0,"paddingOuter":0},"axis":{"title":null,"domain":false,"labelFont":"DejaVu Sans","labelFontSize":13.9,"labelColor":"black","tickColor":"black","tickSize":4.9,"labelPadding":3,"labelOverlap":false}}
},
"layer":[
{"mark":{"type":"rect"},"encoding":{"color":{"field":"v","type":"quantitative","scale":{"type":"linear","domain":[-0.946,-0.4595,0.027,0.5135,1.0],"range":["#00004d","#0000ff","#ffffff","#ff0000","#800000"],"interpolate":"rgb"},"legend":{"orient":"none","legendX":527,"legendY":-61,"direction":"vertical","gradientLength":616,"gradientThickness":32,"title":null,"values":[-0.75,-0.5,-0.25,0,0.25,0.5,0.75,1],"format":".2f","labelFont":"DejaVu Sans","labelFontSize":13.9,"labelColor":"black","labelBaseline":"middle","labelOverlap":false,"labelOffset":9,"gradientStrokeColor":"black","gradientStrokeWidth":1,"encode":{"labels":{"update":{"baseline":{"value":"middle"}}}}}}}},
{"mark":{"type":"text","font":"DejaVu Sans","fontSize":8.3,"color":"white","opacity":0.8,"baseline":"middle","align":"center"},"encoding":{"text":{"field":"s","type":"nominal"}}}
]}
